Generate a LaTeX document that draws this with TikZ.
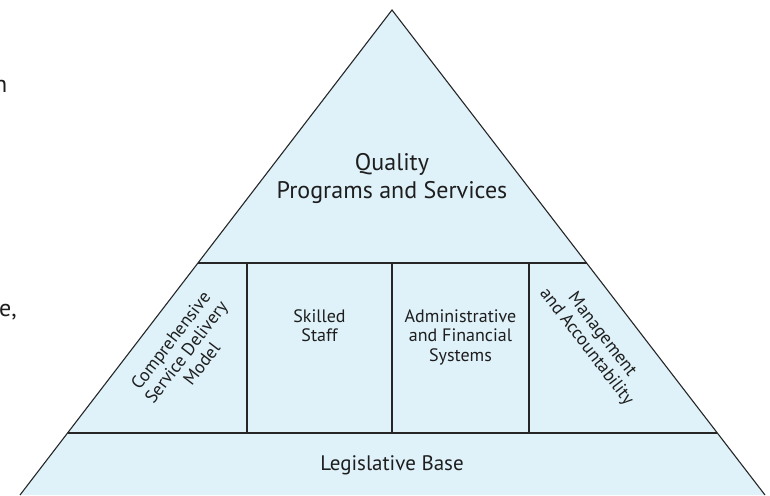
\documentclass[tikz,border=0pt]{standalone}
\usepackage{fontspec}
\setmainfont{PT Sans}
\usepackage{xcolor}
\usepackage{tikz}
\usetikzlibrary{calc}
\definecolor{pyrfill}{RGB}{223,242,250}
\definecolor{pyrline}{RGB}{38,38,38}
\definecolor{pyrtext}{RGB}{30,30,30}

\begin{document}
\begin{tikzpicture}[x=1pt,y=1pt,edge/.style={draw=pyrline,line width=1.1pt},tier/.style={align=center,text=pyrtext,inner sep=0pt},big/.style={tier,font=\fontsize{24}{28}\selectfont},small/.style={tier,font=\fontsize{18}{19.5}\selectfont}]
\useasboundingbox (0,0) rectangle (770,495);
% corners of the pyramid and the two band lines
\coordinate (apex) at (392,485);
\coordinate (bl) at (20,0);
\coordinate (br) at (765,0);
\coordinate (tl) at ($(apex)!0.5216!(bl)$);
\coordinate (tr) at ($(apex)!0.5216!(br)$);
\coordinate (ml) at ($(apex)!0.8722!(bl)$);
\coordinate (mr) at ($(apex)!0.8722!(br)$);
\fill[pyrfill] (apex)--(bl)--(br)--cycle;
\draw[edge] (bl)--(apex)--(br);
\draw[edge] (tl)--(tr);
\draw[edge] (ml)--(mr);
% pillars
\foreach \x in {247,392,529} \draw[edge] (\x,62)--(\x,232);
\node[big] (top) at (392,316) {Quality\\Programs and Services};
\node[small,rotate=52.5] (model) at (186,143) {Comprehensive\\Service Delivery\\Model};
\node[small] (staff) at (319.5,169.5) {Skilled\\Staff};
\node[small] (systems) at (460.5,158) {Administrative\\and Financial\\Systems};
\node[small,rotate=-52.5] (mgmt) at (594,154) {Management\\and Accountability};
\node[tier,font=\fontsize{21}{24}\selectfont] (base) at (392,30) {Legislative Base};
% text running in from the left
\node[tier,font=\fontsize{24}{28}\selectfont,anchor=base east] (frag1) at (7.5,402) {n};
\node[tier,font=\fontsize{24}{28}\selectfont,anchor=base east] (frag2) at (17,178) {e,};
\end{tikzpicture}
\end{document}
